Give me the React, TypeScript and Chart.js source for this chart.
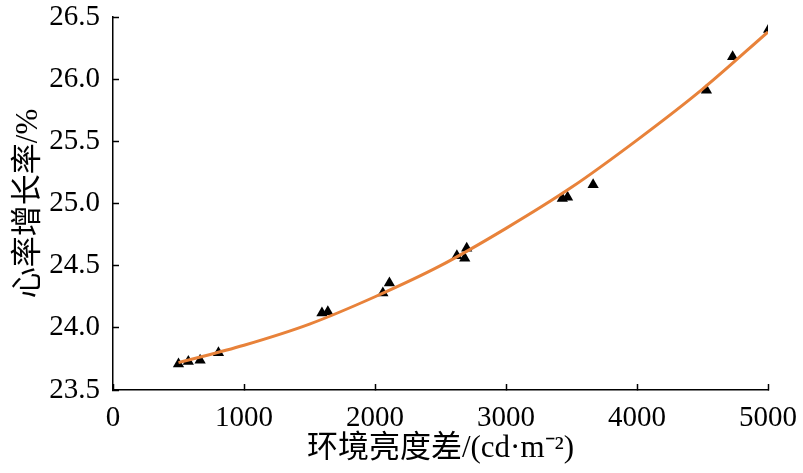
import { useEffect, useRef } from "react";
import Chart from "chart.js/auto";

// measured points: luminance difference (cd/m2) vs heart-rate growth (%)
const pointX = [500, 575, 665, 805, 1595, 1640, 2060, 2110, 2625, 2685, 2700, 3430, 3470, 3665, 4530, 4730, 5005];
const pointY = [23.71, 23.73, 23.74, 23.8, 24.12, 24.13, 24.28, 24.36, 24.58, 24.56, 24.64, 25.04, 25.05, 25.15, 25.91, 26.18, 26.4];

// fitted curve
const curveX = [500, 1000, 1500, 2000, 2500, 3000, 3500, 4000, 4500, 5000];
const curveY = [23.72, 23.86, 24.03, 24.25, 24.5, 24.8, 25.13, 25.51, 25.92, 26.38];

const xTitle = "环境亮度差/(cd·m⁻²)";
const yTitle = "心率增长率/%";

const FONT = '"Liberation Serif", "Noto Sans CJK SC", serif';

const App = () => {
  const canvasRef = useRef<HTMLCanvasElement>(null);
  const chartRef = useRef<Chart | null>(null);

  useEffect(() => {
    if (!canvasRef.current) return;
    if (chartRef.current) chartRef.current.destroy();

    chartRef.current = new Chart(canvasRef.current, {
      type: "scatter",
      data: {
        datasets: [
          {
            type: "line",
            data: curveX.map((x, i) => ({ x, y: curveY[i] })),
            borderColor: "#E8823A",
            borderWidth: 3,
            pointRadius: 0,
            cubicInterpolationMode: "monotone",
            fill: false,
            order: 0,
          },
          {
            data: pointX.map((x, i) => ({ x, y: pointY[i] })),
            pointStyle: "triangle",
            pointRadius: 6.5,
            backgroundColor: "#000",
            borderColor: "#000",
            borderWidth: 0,
            order: 1,
          },
        ],
      },
      options: {
        animation: false,
        responsive: true,
        maintainAspectRatio: false,
        layout: { padding: { top: 17, right: 35, bottom: 0, left: 0 } },
        plugins: { legend: { display: false }, tooltip: { enabled: false } },
        scales: {
          x: {
            type: "linear",
            min: 0,
            max: 5000,
            afterFit: (s) => {
              // fixed axis box, label overhang handled by layout padding
              s.height = 83;
              s.paddingLeft = 0;
              s.paddingRight = 0;
            },
            ticks: {
              stepSize: 1000,
              color: "#000",
              padding: 17,
              maxRotation: 0,
              font: { family: FONT, size: 29 },
              callback: (v) => String(v),
            },
            grid: { drawOnChartArea: false, tickLength: -6, tickWidth: 1.5, tickColor: "#000" },
            border: { color: "#000", width: 1.5 },
            title: {
              display: true,
              text: xTitle,
              color: "#000",
              font: { family: FONT, size: 31 },
              padding: { top: 0, bottom: 6 },
            },
          },
          y: {
            min: 23.5,
            max: 26.5,
            afterFit: (s) => {
              s.width = 113;
              s.paddingTop = 0;
              s.paddingBottom = 0;
            },
            ticks: {
              stepSize: 0.5,
              color: "#000",
              padding: 19,
              font: { family: FONT, size: 29 },
              callback: (v) => Number(v).toFixed(1),
            },
            grid: { drawOnChartArea: false, tickLength: -6, tickWidth: 1.5, tickColor: "#000" },
            border: { color: "#000", width: 1.5 },
            title: {
              display: true,
              text: yTitle,
              color: "#000",
              font: { family: FONT, size: 31 },
              padding: { top: 10, bottom: 0 },
            },
          },
        },
      },
    });

    return () => {
      if (chartRef.current) {
        chartRef.current.destroy();
        chartRef.current = null;
      }
    };
  }, []);

  return (
    <div style={{ position: "absolute", left: 0, top: 0, width: 803, height: 473, background: "#fff" }}>
      <canvas ref={canvasRef} />
    </div>
  );
};

export default App;
